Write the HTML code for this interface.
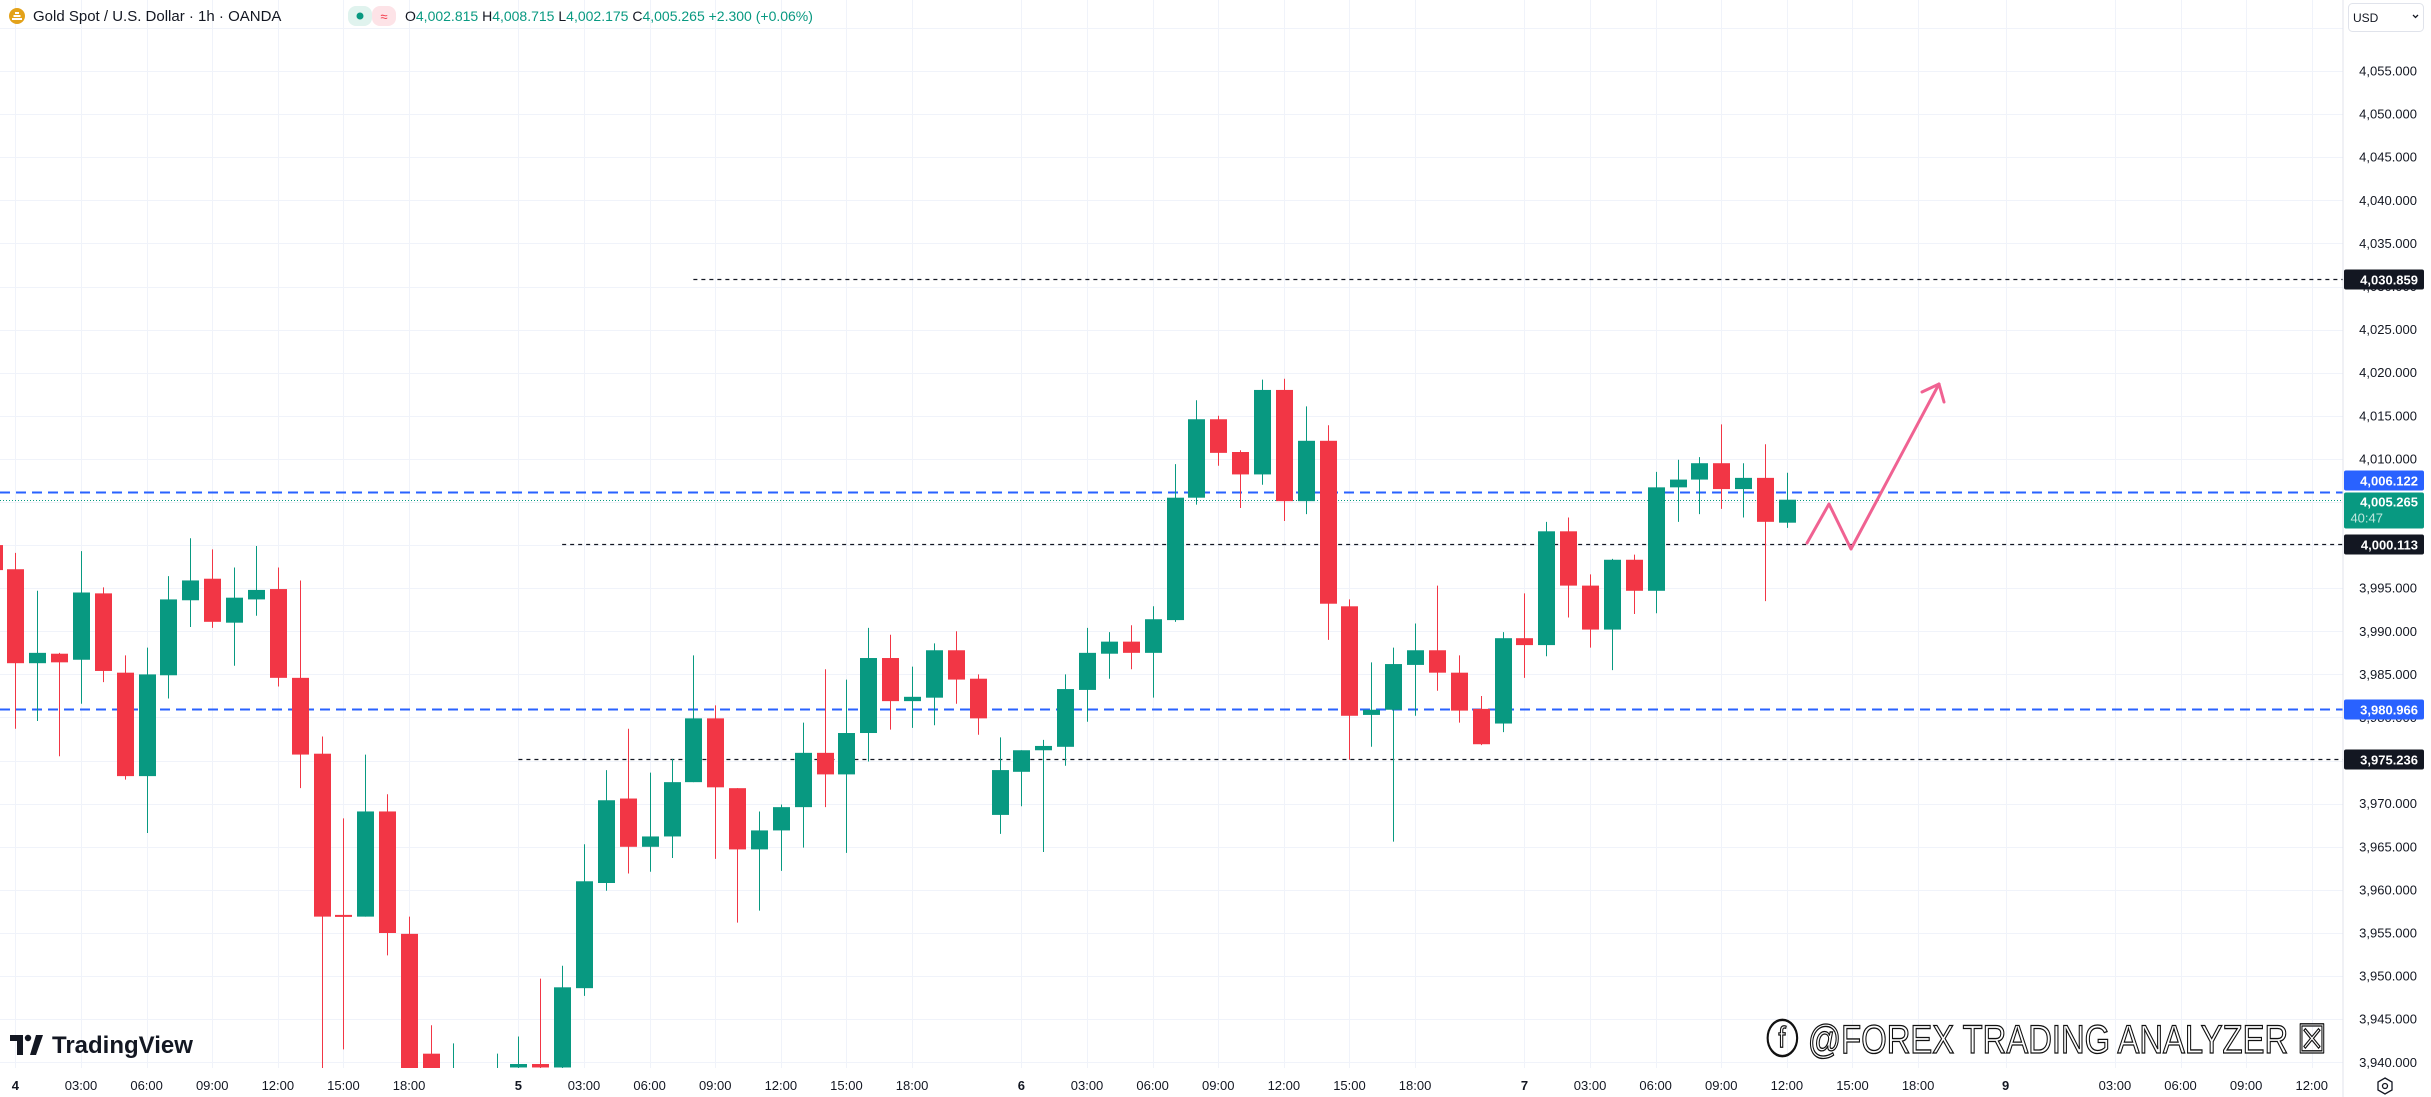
<!DOCTYPE html>
<html><head><meta charset="utf-8">
<style>
html,body{margin:0;padding:0;background:#fff;width:2431px;height:1097px;overflow:hidden;font-family:"Liberation Sans",sans-serif;color:#131722}
#wrap{position:relative;width:2431px;height:1097px;overflow:hidden}
svg{position:absolute;left:0;top:0;display:block}
</style></head>
<body>
<div id="wrap">
<svg id="chart" width="2431" height="1097" viewBox="0 0 2431 1097" xmlns="http://www.w3.org/2000/svg">
<defs><clipPath id="plotclip"><rect x="0" y="0" width="2343" height="1068"/></clipPath></defs>
<g id="grid"></g>
<g id="levels"></g>
<g id="candles" clip-path="url(#plotclip)"></g>
<g fill="none" stroke="#f06292" stroke-width="3" stroke-linejoin="round" stroke-linecap="round">
<polyline points="1807,543 1829,504 1851,549 1939,384"/>
<polyline points="1922,392 1939,384 1944,402"/>
</g>
<line x1="2343" y1="0" x2="2343" y2="1097" stroke="#e0e3eb" stroke-width="1"/>
<g id="yaxis" font-size="13" fill="#131722" text-anchor="end"></g>
<g id="xaxis" font-size="13" fill="#131722" text-anchor="middle"></g>
<g id="tags" font-size="13" font-weight="bold" text-anchor="end"></g>
<g>
<circle cx="17" cy="16" r="8" fill="#e3a21a"/>
<path d="M12 19h10M13.5 16h7M15 13h4" stroke="#fff" stroke-width="2"/>
<text x="33" y="21" font-size="15" fill="#131722">Gold Spot / U.S. Dollar · 1h · OANDA</text>
<rect x="348" y="6" width="24" height="20" rx="8" fill="#e0f3ee"/>
<circle cx="360" cy="16" r="3.5" fill="#089981"/>
<rect x="372" y="6" width="24" height="20" rx="8" fill="#fde3e7"/>
<text x="384" y="21" font-size="13" fill="#f23645" text-anchor="middle">≈</text>
<text x="405" y="21" font-size="14" fill="#089981"><tspan fill="#131722">O</tspan>4,002.815 <tspan fill="#131722">H</tspan>4,008.715 <tspan fill="#131722">L</tspan>4,002.175 <tspan fill="#131722">C</tspan>4,005.265 +2.300 (+0.06%)</text>
</g>
<g>
<rect x="2348.5" y="3.5" width="75" height="28" rx="4" fill="#fff" stroke="#e0e3eb"/>
<text x="2353" y="22" font-size="12" fill="#131722">USD</text>
<path d="M2413 15l2.5 2.5 2.5-2.5" fill="none" stroke="#131722" stroke-width="1.3"/>
</g>
<g>
<path d="M10 1035h13v20h-6v-14h-7z" fill="#131722"/>
<circle cx="28" cy="1038" r="3.2" fill="#131722"/>
<path d="M30 1055l6-20h7l-7 20z" fill="#131722"/>
<text x="52" y="1053" font-size="24" font-weight="bold" fill="#131722">TradingView</text>
</g>
<text x="0" y="0" transform="translate(1766,1053) scale(0.82,1)" font-size="40" fill="#fff" stroke="#111" stroke-width="1.3">ⓕ @FOREX TRADING ANALYZER ☒</text>
<g fill="none" stroke="#131722" stroke-width="1.3">
<polygon points="2385,1078 2392,1082 2392,1090 2385,1094 2378,1090 2378,1082"/>
<circle cx="2385" cy="1086" r="2.5"/>
</g>
</svg>
</div>
<script>
var priceTicks = [4060,4055,4050,4045,4040,4035,4030,4025,4020,4015,4010,4005,4000,3995,3990,3985,3980,3975,3970,3965,3960,3955,3950,3945,3940];
var priceTickLabels = ["4,060.000","4,055.000","4,050.000","4,045.000","4,040.000","4,035.000","4,030.000","4,025.000","4,020.000","4,015.000","4,010.000","4,005.000","4,000.000","3,995.000","3,990.000","3,985.000","3,980.000","3,975.000","3,970.000","3,965.000","3,960.000","3,955.000","3,950.000","3,945.000","3,940.000"];
var timeIdx = [0,3,6,9,12,15,18,23,26,29,32,35,38,41,46,49,52,55,58,61,64,69,72,75,78,81,84,87,91,96,99,102,105];
var timeLabels = ["4","03:00","06:00","09:00","12:00","15:00","18:00","5","03:00","06:00","09:00","12:00","15:00","18:00","6","03:00","06:00","09:00","12:00","15:00","18:00","7","03:00","06:00","09:00","12:00","15:00","18:00","9","03:00","06:00","09:00","12:00"];
var timeBold = [1,0,0,0,0,0,0,1,0,0,0,0,0,0,1,0,0,0,0,0,0,1,0,0,0,0,0,0,1,0,0,0,0];
var firstIndex = -1;
var opens  = [4000.0,3997.2,3986.3,3987.4,3986.7,3994.4,3985.2,3973.2,3984.9,3993.6,3996.1,3991.0,3993.7,3994.9,3984.6,3975.8,3957.1,3956.9,3969.1,3954.9,3941.0,3933.0,3934.0,3936.0,3939.4,3939.8,3939.4,3948.6,3960.8,3970.6,3965.0,3966.2,3972.5,3979.9,3971.8,3964.7,3966.9,3969.6,3975.9,3973.4,3978.2,3986.9,3981.9,3982.3,3987.8,3984.5,3968.7,3973.7,3976.2,3976.6,3983.2,3987.4,3988.8,3987.5,3991.3,4005.5,4014.6,4010.8,4008.2,4018.0,4005.1,4012.1,3992.9,3980.3,3980.9,3986.1,3987.8,3985.2,3981.0,3979.3,3989.2,3988.4,4001.6,3995.3,3990.2,3998.3,3994.7,4006.7,4007.6,4009.5,4006.5,4007.8,4002.6];
var highs  = [4001.5,3999.1,3994.7,3987.5,3999.3,3995.1,3987.2,3988.1,3996.4,4000.8,3999.5,3997.4,3999.9,3997.4,3995.9,3977.8,3968.3,3975.7,3971.1,3956.9,3944.3,3942.2,3936.0,3941.0,3943.0,3949.7,3951.2,3965.3,3973.9,3978.7,3973.6,3975.2,3987.2,3981.4,3971.8,3969.1,3969.9,3979.4,3985.6,3984.4,3990.4,3989.6,3985.9,3988.6,3990.0,3985.0,3977.7,3976.2,3977.4,3985.0,3990.4,3989.9,3990.7,3992.9,4009.4,4016.8,4015.0,4011.0,4019.2,4019.3,4016.1,4013.9,3993.7,3986.4,3988.1,3990.9,3995.3,3987.2,3982.5,3989.9,3994.4,4002.7,4003.2,3996.6,3998.4,3998.9,4008.5,4009.9,4010.2,4014.0,4009.5,4011.7,4008.4];
var lows   = [3995.0,3978.7,3979.6,3975.5,3981.6,3984.1,3972.8,3966.6,3982.2,3990.5,3990.4,3986.0,3991.8,3983.6,3971.8,3935.0,3941.5,3956.9,3952.4,3928.0,3932.0,3930.0,3930.0,3933.0,3938.0,3938.0,3937.0,3947.7,3959.9,3961.9,3962.1,3963.7,3972.5,3963.6,3956.2,3957.6,3962.2,3964.9,3969.6,3964.3,3974.9,3978.6,3978.8,3979.1,3981.6,3978.0,3966.5,3969.7,3964.4,3974.4,3979.5,3984.5,3985.6,3982.3,3991.1,4004.7,4009.2,4004.3,4007.0,4002.8,4003.6,3989.0,3975.1,3976.6,3965.6,3980.2,3983.1,3979.4,3976.8,3978.3,3984.6,3987.1,3991.6,3988.1,3985.5,3992.0,3992.1,4002.7,4003.6,4004.2,4003.2,3993.5,4002.0];
var closes = [3997.1,3986.3,3987.5,3986.4,3994.5,3985.4,3973.2,3985.0,3993.7,3995.9,3991.1,3993.9,3994.8,3984.6,3975.7,3956.9,3956.9,3969.1,3955.0,3930.0,3935.0,3937.0,3936.0,3938.0,3939.8,3939.4,3948.7,3961.0,3970.4,3965.0,3966.2,3972.5,3979.9,3971.9,3964.7,3966.9,3969.6,3975.9,3973.4,3978.2,3986.9,3981.9,3982.4,3987.8,3984.4,3979.9,3973.9,3976.2,3976.7,3983.3,3987.5,3988.8,3987.5,3991.4,4005.5,4014.6,4010.7,4008.2,4018.0,4005.1,4012.1,3993.2,3980.2,3980.9,3986.2,3987.8,3985.2,3980.8,3976.9,3989.2,3988.4,4001.6,3995.3,3990.2,3998.3,3994.7,4006.7,4007.6,4009.5,4006.5,4007.8,4002.7,4005.265];
var levelPrices = [4030.859,4006.122,4000.113,3980.966,3975.236];
var levelLabels = ["4,030.859","4,006.122","4,000.113","3,980.966","3,975.236"];
var levelKinds  = ["black","blue","black","blue","black"];
var levelStartIdx = [31,-2,25,-2,23];
var levelTagShift = [0,-12,0,0,0];
var lastPrice = 4005.265;
var lastPriceLabel = "4,005.265";
var countdownLabel = "40:47";

function y(p){ return 71 + (4055 - p) * 8.62; }
function x(i){ return 15.4 + i * 21.87; }
var NS = "http://www.w3.org/2000/svg";
function mk(tag, attrs, parent){ var e=document.createElementNS(NS,tag); for(var k in attrs) e.setAttribute(k,attrs[k]); parent.appendChild(e); return e; }

var grid=document.getElementById('grid');
priceTicks.forEach(function(p){
  var l=mk('line',{x1:0,x2:2343,y1:Math.round(y(p))+0.5,y2:Math.round(y(p))+0.5,stroke:'#f0f3fa','stroke-width':1},grid);
  
  
});
timeIdx.forEach(function(i){
  var l=mk('line',{x1:Math.round(x(i))+0.5,x2:Math.round(x(i))+0.5,y1:0,y2:1068,stroke:'#f0f3fa','stroke-width':1},grid);
  
  
});

var ya=document.getElementById('yaxis');
priceTicks.forEach(function(p,k){
  if(y(p)<50) return;
  var t=mk('text',{x:2417,y:y(p)+4.5},ya); t.textContent=priceTickLabels[k];
  
  
});
var xa=document.getElementById('xaxis');
timeIdx.forEach(function(i,k){
  var t=mk('text',{x:x(i),y:1090,'font-weight':timeBold[k]?'bold':'normal'},xa); t.textContent=timeLabels[k];
  
  
});

var lv=document.getElementById('levels');
var tags=document.getElementById('tags');
levelPrices.forEach(function(p,k){
  var yy=Math.round(y(p))+0.5, blue=levelKinds[k]==='blue';
  var l=mk('line',{x1:levelStartIdx[k]<-1?0:x(levelStartIdx[k]),x2:2343,y1:yy,y2:yy,stroke:blue?'#2962ff':'#131722','stroke-width':blue?2:1.3,'stroke-dasharray':blue?'10 6':'4 4'},lv);
  
  
});
var ly=Math.round(y(lastPrice))+0.5;
var cl=mk('line',{x1:0,x2:2343,y1:ly,y2:ly,stroke:'#089981','stroke-width':1,'stroke-dasharray':'1 2'},lv);


levelPrices.forEach(function(p,k){
  var yy=Math.round(y(p))+0.5+levelTagShift[k], blue=levelKinds[k]==='blue';
  var r=mk('rect',{x:2344,y:yy-10,width:80,height:20,rx:2,fill:blue?'#2962ff':'#131722'},tags);
  
  
  var t=mk('text',{x:2418,y:yy+5,fill:'#fff'},tags); t.textContent=levelLabels[k];
  
  
});
var lr=mk('rect',{x:2344,y:ly-8,width:80,height:36,rx:2,fill:'#089981'},tags);


var lt=mk('text',{x:2418,y:ly+6,fill:'#fff'},tags); lt.textContent=lastPriceLabel;


var ct=mk('text',{x:2383,y:ly+22,fill:'#bfe6dd','font-weight':'normal'},tags); ct.textContent=countdownLabel;



var cg=document.getElementById('candles');
for(var k=0;k<opens.length;k++){
  var i=firstIndex+k, o=opens[k], c=closes[k], up=c>=o, col=up?'#089981':'#f23645';
  var cx=Math.round(x(i))+0.5;
  var w=mk('line',{x1:cx,x2:cx,y1:y(highs[k]),y2:y(lows[k]),stroke:col,'stroke-width':1},cg);
  
  
  var bodyTop=y(Math.max(o,c)), bodyH=Math.max(2,Math.abs(y(o)-y(c)));
  var b=mk('rect',{x:Math.round(x(i))-8,y:bodyTop,width:17,height:bodyH,fill:col},cg);
  
  
}
</script>
</body></html>
